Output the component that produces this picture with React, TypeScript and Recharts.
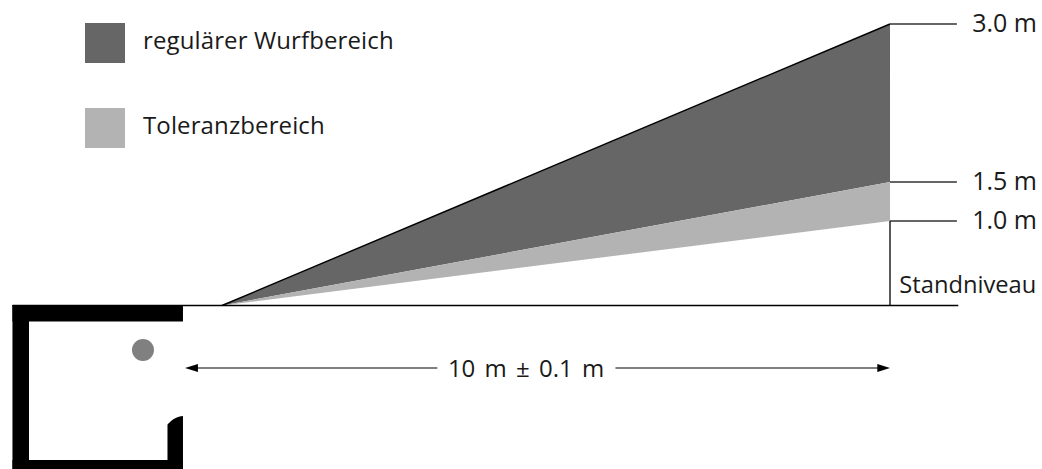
import React from "react";
import {
  ComposedChart,
  Area,
  XAxis,
  YAxis,
  ReferenceLine,
  ReferenceArea,
  ReferenceDot,
  Legend,
} from "recharts";

// x: metres along the throw line. y: drawn height above the stand level (drawing units, not to scale).
const H_UPPER = 281.5;
const H_MID = 123.5;
const H_LOWER = 84.5;
const X_START = 0.511;
const X_END = 10;

const regularBand = [
  { x: X_START, band: [0, 0] },
  { x: X_END, band: [H_MID, H_UPPER] },
];
const toleranceBand = [
  { x: X_START, band: [0, 0] },
  { x: X_END, band: [H_LOWER, H_MID] },
];
const heightTicks = [H_UPPER, H_MID, H_LOWER];
const heightLabels: Record<number, string> = {
  [H_UPPER]: "3.0 m",
  [H_MID]: "1.5 m",
  [H_LOWER]: "1.0 m",
};
const legendItems = [
  { name: "regulärer Wurfbereich", color: "#666666" },
  { name: "Toleranzbereich", color: "#b3b3b3" },
];
const stubCurve = [
  { x: -0.263, band: [-163.5, -119] },
  { x: -0.22, band: [-163.5, -116] },
  { x: -0.16, band: [-163.5, -113] },
  { x: -0.043, band: [-163.5, -110.5] },
];
const leftArrowHead = [
  { x: -0.014, band: [-62.5, -62.5] },
  { x: 0.17, band: [-66.5, -58.5] },
];
const rightArrowHead = [
  { x: 9.82, band: [-66.5, -58.5] },
  { x: 10.0, band: [-62.5, -62.5] },
];

const W = 1042;
const H = 469;
const FONT = '"Open Sans", "Noto Sans", sans-serif';
const INK = "#1a1a1a";

const seg = (x1: number, y1: number, x2: number, y2: number) => [
  { x: x1, y: y1 },
  { x: x2, y: y2 },
];

const LegendContent = () => (
  <div style={{ fontFamily: FONT, fontSize: 24, color: INK }}>
    {legendItems.map((it, i) => (
      <div
        key={it.name}
        style={{
          position: "absolute",
          left: 85,
          top: 23 + i * 85,
          display: "flex",
          alignItems: "center",
          height: 40,
          whiteSpace: "nowrap",
        }}
      >
        <span style={{ width: 40, height: 40, background: it.color, marginRight: 18 }} />
        <span style={{ position: "relative", top: -4, letterSpacing: 0.12 }}>{it.name}</span>
      </div>
    ))}
  </div>
);

const textLabel = (value: string, extra: any = {}) => ({
  value,
  position: "center" as const,
  fill: INK,
  fontSize: 24,
  fontFamily: FONT,
  ...extra,
});

export default function App() {
  return (
    <div style={{ position: "absolute", left: 0, top: 0, width: W, height: H, overflow: "hidden" }}>
      <ComposedChart width={W} height={H} margin={{ top: 0, right: 0, bottom: 0, left: 0 }}>
        <XAxis type="number" dataKey="x" domain={[-2.642, 12.159]} hide allowDataOverflow />
        <YAxis
          type="number"
          orientation="right"
          mirror
          width={70}
          domain={[-163.5, 305.5]}
          ticks={heightTicks}
          interval={0}
          axisLine={false}
          tickLine={false}
          tickMargin={0}
          tickFormatter={(v: number) => heightLabels[v] ?? ""}
          tick={{ fill: INK, fontSize: 25, fontFamily: FONT, dx: 1, dy: -1 }}
          allowDataOverflow
        />
        <Legend content={<LegendContent />} wrapperStyle={{ position: "absolute", left: 0, top: 0 }} />

        <Area data={regularBand} dataKey="band" type="linear" fill="#666666" fillOpacity={1} stroke="none" dot={false} activeDot={false} name="regulärer Wurfbereich" isAnimationActive={false} />
        <Area data={toleranceBand} dataKey="band" type="linear" fill="#b3b3b3" fillOpacity={1} stroke="none" dot={false} activeDot={false} name="Toleranzbereich" isAnimationActive={false} />

        {/* building */}
        <ReferenceArea x1={-2.465} x2={-0.043} y1={-16} y2={0.5} fill="#000" fillOpacity={1} stroke="none" />
        <ReferenceArea x1={-2.465} x2={-2.23} y1={-163.5} y2={0.5} fill="#000" fillOpacity={1} stroke="none" />
        <ReferenceArea x1={-2.465} x2={-0.043} y1={-163.5} y2={-154.5} fill="#000" fillOpacity={1} stroke="none" />
        <Area data={stubCurve} dataKey="band" type="monotone" fill="#000" fillOpacity={1} stroke="none" dot={false} activeDot={false} legendType="none" isAnimationActive={false} />
        <ReferenceDot x={-0.611} y={-44.5} r={11} fill="#808080" stroke="none" />

        {/* guide lines */}
        <ReferenceLine segment={seg(X_START, 0, X_END, H_UPPER)} stroke="#000" strokeWidth={1.4} />
        <ReferenceLine segment={seg(-2.465, 0, 10.97, 0)} stroke="#000" strokeWidth={1.3} />
        <ReferenceLine segment={seg(X_END, H_UPPER, 10.95, H_UPPER)} stroke="#333" strokeWidth={1.5} />
        <ReferenceLine segment={seg(X_END, H_MID, 10.95, H_MID)} stroke="#333" strokeWidth={1.5} />
        <ReferenceLine segment={seg(X_END, H_LOWER, 10.95, H_LOWER)} stroke="#333" strokeWidth={1.5} />
        <ReferenceLine segment={seg(X_END, 0, X_END, H_LOWER)} stroke="#000" strokeWidth={1.3} />

        {/* distance arrow */}
        <ReferenceLine segment={seg(0.1, -62.5, 3.57, -62.5)} stroke="#000" strokeWidth={1.1} />
        <ReferenceLine segment={seg(6.1, -62.5, 9.9, -62.5)} stroke="#000" strokeWidth={1.1} />
        <Area data={leftArrowHead} dataKey="band" type="linear" fill="#000" fillOpacity={1} stroke="none" dot={false} activeDot={false} legendType="none" isAnimationActive={false} />
        <Area data={rightArrowHead} dataKey="band" type="linear" fill="#000" fillOpacity={1} stroke="none" dot={false} activeDot={false} legendType="none" isAnimationActive={false} />

        <ReferenceDot x={4.83} y={-62.5} r={0} fill="none" stroke="none" label={textLabel("10 m ± 0.1 m", { wordSpacing: 3 })} />
        <ReferenceDot x={11.105} y={21} r={0} fill="none" stroke="none" label={textLabel("Standniveau", { fontSize: 23.7 })} />
      </ComposedChart>
    </div>
  );
}
